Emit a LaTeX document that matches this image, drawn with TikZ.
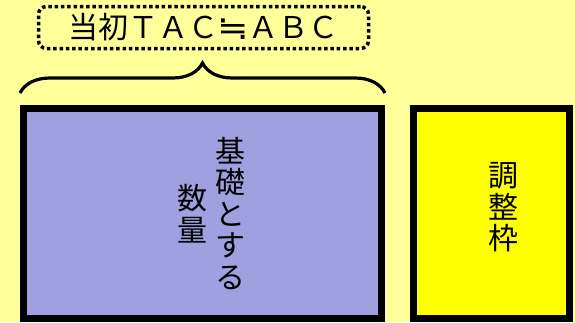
\documentclass[tikz,border=0pt]{standalone}
\usepackage{xcolor}
\usepackage{fontspec}
\setmainfont{Noto Sans CJK JP}
\newfontfamily\symfont{DejaVu Sans}
\usepackage{tikz}
\usetikzlibrary{shapes,decorations.pathreplacing}

\begin{document}
\begin{tikzpicture}[x=1pt,y=-1pt]
    \definecolor{mybg}{RGB}{255,255,153}
    \definecolor{mylavender}{RGB}{160,160,224}
    \definecolor{myyellow}{RGB}{255,255,0}

    \tikzstyle{frame}=[rectangle,draw=black,line width=7.5pt,inner sep=0pt]  % 太枠の箱
    \tikzstyle{vtext}=[align=center,inner sep=0pt,font=\fontsize{30}{31.5}\selectfont]  % 縦書き
    \tikzstyle{label}=[rectangle,rounded corners=8pt,draw=black,line width=3.5pt,
        dash pattern=on 3.5pt off 2.8pt,inner sep=0pt,minimum width=330pt,minimum height=42pt,
        font=\fontsize{30}{30}\selectfont]  % 点線の枠

    % 背景
    \fill[mybg] (0,0) rectangle (575,322);
    \useasboundingbox (0,0) rectangle (575,322);

    % 箱
    \node[frame,fill=mylavender,minimum width=358pt,minimum height=210pt](base) at (202.5,213.5){};
    \node[frame,fill=myyellow,minimum width=156pt,minimum height=210pt](adj) at (491.5,213.5){};
    \node[vtext](base1) at ([xshift=27.5pt]base.center){基\\礎\\と\\す\\る};
    \node[vtext](base2) at ([xshift=-10.5pt]base.center){数\\量};
    \node[vtext](adj1) at ([xshift=11.5pt,yshift=6pt]adj.center){調\\整\\枠};

    % 括弧とラベル
    \coordinate (bl) at (20,93);
    \coordinate (br) at (385,93);
    \draw[line width=3.2pt,decorate,decoration={brace,amplitude=30pt}](bl)--(br);
    \node[label](tac) at (203.5,27.5){当初ＴＡＣ\makebox[30pt]{\raisebox{-1pt}{\scalebox{1.25}[1.1]{\symfont ≒}}}ＡＢＣ};
\end{tikzpicture}
\end{document}
